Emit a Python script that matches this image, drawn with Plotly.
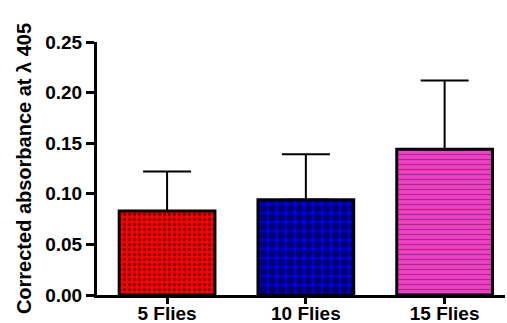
import plotly.graph_objects as go

# Group labels, mean absorbance and upper SEM for each group
groups = ["5 Flies", "10 Flies", "15 Flies"]
means = [0.083, 0.094, 0.144]
errors = [0.039, 0.045, 0.068]
y_ticks = [0.00, 0.05, 0.10, 0.15, 0.20, 0.25]

fills = ["#ff0000", "#0000e0", "#f040c8"]
patterns = [
    dict(shape=".", bgcolor="#ff0000", fgcolor="#000000", size=5, solidity=0.35),
    dict(shape=".", bgcolor="#0000e0", fgcolor="#000000", size=9, solidity=0.6),
    dict(shape="-", bgcolor="#f040c8", fgcolor="#5a1a40", size=5, solidity=0.25),
]

fig = go.Figure()
for i, g in enumerate(groups):
    fig.add_trace(go.Bar(
        x=[i], y=[means[i]],
        marker=dict(color=fills[i], pattern=patterns[i],
                    line=dict(color="black", width=3)),
        error_y=dict(type="data", array=[errors[i]], arrayminus=[0],
                     symmetric=False, color="black", thickness=2, width=24),
        width=0.69, showlegend=False,
    ))

family = "Liberation Sans, Arial, sans-serif"
title_font = dict(family=family, size=20, color="black", weight="bold")
ytick_font = dict(family=family, size=19, color="black", weight="bold")
xtick_font = dict(family=family, size=19, color="black", weight="bold")

fig.update_layout(
    width=507, height=323,
    margin=dict(l=97, r=2, t=42, b=28),
    paper_bgcolor="white", plot_bgcolor="white",
    xaxis=dict(range=[-0.505, 2.435], tickvals=[0, 1, 2], ticktext=groups,
               showline=True, linecolor="black", linewidth=3,
               ticks="outside", ticklen=6, tickwidth=3, tickcolor="black",
               showgrid=False, zeroline=False, tickfont=xtick_font,
               ticklabelstandoff=-7, automargin=False),
    yaxis=dict(range=[0, 0.25], tickvals=y_ticks,
               ticktext=[f"{v:.2f}" for v in y_ticks],
               showline=True, linecolor="black", linewidth=3,
               ticks="outside", ticklen=8, tickwidth=3, tickcolor="black",
               showgrid=False, zeroline=False, tickfont=ytick_font,
               automargin=False,
               title=dict(text="Corrected absorbance at λ 405", font=title_font, standoff=9)),
)

fig.write_html("out.html")
